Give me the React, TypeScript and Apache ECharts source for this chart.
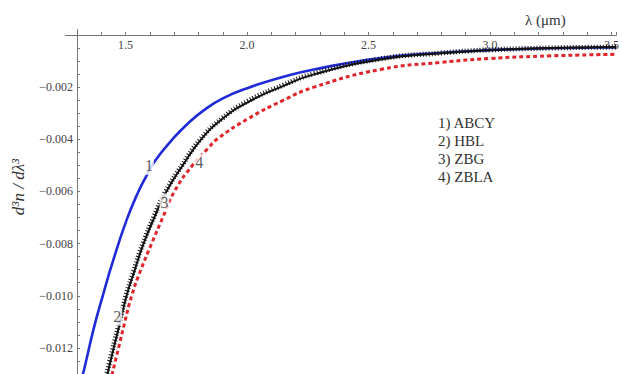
import React, { useEffect, useRef } from "react";
import * as echarts from "echarts";

// wavelength (µm) and d3n/dλ3 values
const lambdaABCY = [1.316, 1.332, 1.369, 1.406, 1.447, 1.504, 1.553, 1.586, 1.623, 1.693, 1.75, 1.82, 1.9, 2.012, 2.15, 2.275, 2.55, 2.8, 3.0, 3.25, 3.52];
const valuesABCY = [-0.0133, -0.01272, -0.01125, -0.01, -0.0087, -0.0071, -0.006, -0.0054, -0.0048, -0.004, -0.00345, -0.0029, -0.00243, -0.002, -0.0016, -0.00132, -0.00088, -0.00068, -0.00058, -0.00051, -0.00047];

const lambdaHBL = [1.418, 1.451, 1.478, 1.504, 1.538, 1.574, 1.618, 1.668, 1.735, 1.811, 1.9, 2.004, 2.15, 2.275, 2.549, 2.8, 3.0, 3.25, 3.52];
const valuesHBL = [-0.0133, -0.012, -0.011, -0.01, -0.009, -0.008, -0.007, -0.006, -0.005, -0.004, -0.0032, -0.00257, -0.00195, -0.00151, -0.00094, -0.0007, -0.00058, -0.0005, -0.00046];

const lambdaZBG = [1.415, 1.448, 1.475, 1.501, 1.535, 1.571, 1.615, 1.665, 1.732, 1.808, 1.897, 2.0, 2.147, 2.272, 2.546, 2.8, 3.0, 3.25, 3.52];
const valuesZBG = [-0.0133, -0.012, -0.011, -0.01, -0.009, -0.008, -0.007, -0.006, -0.005, -0.004, -0.0032, -0.00255, -0.00193, -0.00149, -0.00092, -0.00069, -0.00057, -0.0005, -0.00046];

const lambdaZBLA = [1.437, 1.471, 1.497, 1.525, 1.563, 1.607, 1.653, 1.701, 1.775, 1.84, 1.877, 2.004, 2.15, 2.275, 2.549, 2.8, 3.0, 3.25, 3.52];
const valuesZBLA = [-0.0133, -0.012, -0.011, -0.01, -0.009, -0.008, -0.007, -0.006, -0.005, -0.00434, -0.00399, -0.00321, -0.0025, -0.002, -0.00132, -0.00105, -0.0009, -0.0008, -0.00074];

const seriesNames = ["ABCY", "HBL", "ZBG", "ZBLA"];

const curveLabelText = ["1", "2", "3", "4"];
const curveLabelLambda = [1.596, 1.466, 1.66, 1.803];
const curveLabelValue = [-0.00502, -0.0108, -0.00642, -0.0049];

const zip = (xs: number[], ys: number[]) => xs.map((x, i) => [x, ys[i]]);

const SERIF = "Liberation Serif";

export default function App() {
  const ref = useRef<HTMLDivElement>(null);
  useEffect(() => {
    if (!ref.current) return;
    const chart = echarts.init(ref.current, undefined, { renderer: "svg" });
    const lineBase = { type: "line", showSymbol: false, smooth: 0.5, clip: true, z: 2 };
    chart.setOption({
      animation: false,
      backgroundColor: "#fff",
      textStyle: { fontFamily: SERIF },
      grid: { left: 77, right: 3, top: 35, bottom: -5.5, containLabel: false },
      legend: {
        data: seriesNames,
        orient: "vertical",
        left: 428,
        top: 110,
        icon: "none",
        itemWidth: 0,
        itemHeight: 14,
        itemGap: 3,
        selectedMode: false,
        formatter: (name: string) => `${seriesNames.indexOf(name) + 1}) ${name}`,
        textStyle: { fontFamily: SERIF, fontSize: 15, color: "#333" },
      },
      xAxis: {
        type: "value",
        position: "top",
        min: 1.3,
        max: 3.52,
        interval: 0.1,
        axisLine: { show: true, onZero: false, lineStyle: { color: "#777", width: 1 } },
        axisTick: { show: true, inside: false, length: 3, lineStyle: { color: "#777" } },
        splitLine: { show: false },
        axisLabel: {
          inside: true,
          margin: 4,
          fontFamily: SERIF,
          fontSize: 12,
          color: "#444",
          showMinLabel: true,
          showMaxLabel: true,
          formatter: (v: number) => (Math.abs(v * 2 - Math.round(v * 2)) < 1e-6 ? v.toFixed(1) : ""),
        },
      },
      yAxis: {
        type: "value",
        position: "left",
        min: -0.013,
        max: 0,
        interval: 0.0005,
        axisLine: { show: true, onZero: false, lineStyle: { color: "#777", width: 1 } },
        axisTick: { show: true, inside: true, length: 3, lineStyle: { color: "#777" } },
        splitLine: { show: false },
        axisLabel: {
          margin: 4,
          fontFamily: SERIF,
          fontSize: 12,
          color: "#444",
          formatter: (v: number) => {
            const k = v / 0.002;
            if (Math.abs(k - Math.round(k)) > 1e-6 || Math.abs(v) < 1e-9) return "";
            return "\u2212" + Math.abs(v).toFixed(3);
          },
        },
      },
      graphic: [
        { type: "line", shape: { x1: 65, y1: 35.5, x2: 77, y2: 35.5 }, style: { stroke: "#777", lineWidth: 1 }, silent: true },
        { type: "line", shape: { x1: 77.5, y1: 29, x2: 77.5, y2: 35 }, style: { stroke: "#777", lineWidth: 1 }, silent: true },
        {
          type: "text",
          x: 525,
          y: 12,
          style: { text: "λ (μm)", fontFamily: SERIF, fontSize: 15, fill: "#333" },
          silent: true,
        },
        {
          type: "text",
          x: 18,
          y: 187,
          rotation: Math.PI / 2,
          style: {
            text: "d³n / dλ³",
            fontFamily: SERIF,
            fontStyle: "italic",
            fontSize: 17,
            fill: "#333",
            align: "center",
            verticalAlign: "middle",
          },
          silent: true,
        },
      ],
      series: [
        {
          ...lineBase,
          name: "ABCY",
          data: zip(lambdaABCY, valuesABCY),
          lineStyle: { color: "#1f2bd6", width: 2.6 },
          itemStyle: { color: "#1f2bd6" },
        },
        {
          ...lineBase,
          name: "ZBLA",
          data: zip(lambdaZBLA, valuesZBLA),
          lineStyle: { color: "#e0242a", width: 3, type: [4, 3] },
          itemStyle: { color: "#e0242a" },
        },
        {
          ...lineBase,
          name: "ZBG",
          data: zip(lambdaZBG, valuesZBG),
          lineStyle: { color: "#111", width: 5, type: [1, 2] },
          itemStyle: { color: "#111" },
        },
        {
          ...lineBase,
          name: "HBL",
          data: zip(lambdaHBL, valuesHBL),
          lineStyle: { color: "#111", width: 2 },
          itemStyle: { color: "#111" },
        },
        {
          type: "scatter",
          name: "labels",
          symbolSize: 0,
          z: 5,
          data: curveLabelText.map((t, i) => [curveLabelLambda[i], curveLabelValue[i], t]),
          label: {
            show: true,
            position: "inside",
            formatter: (p: any) => p.value[2],
            fontFamily: SERIF,
            fontSize: 16,
            color: "#333",
            backgroundColor: "#fff",
            padding: [1, 1],
          },
        },
      ],
    });
    return () => chart.dispose();
  }, []);
  return <div ref={ref} style={{ position: "fixed", left: 0, top: 0, width: 622, height: 374 }} />;
}
